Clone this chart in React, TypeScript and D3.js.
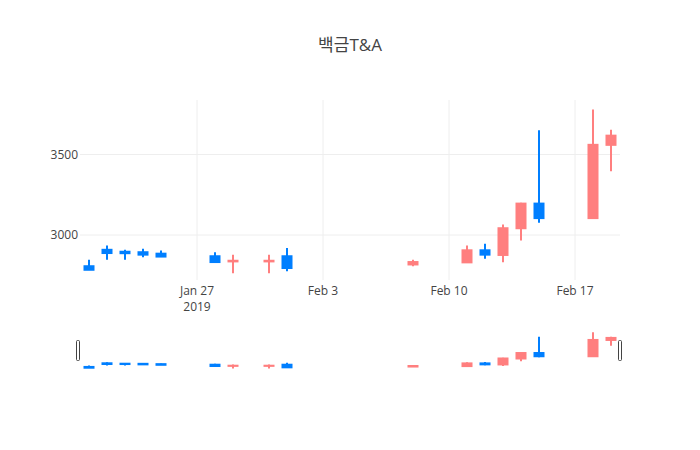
import React from "react";
import * as d3 from "d3";

const title = "백금T&A";
const dates = [
  "2019-01-21", "2019-01-22", "2019-01-23", "2019-01-24", "2019-01-25",
  "2019-01-28", "2019-01-29", "2019-01-31", "2019-02-01",
  "2019-02-08", "2019-02-11", "2019-02-12", "2019-02-13", "2019-02-14",
  "2019-02-15", "2019-02-18", "2019-02-19",
];
const open = [2806, 2908, 2896, 2893, 2884, 2868, 2836, 2836, 2868, 2817, 2830, 2905, 2876, 3042, 3195, 3105, 3560];
const high = [2846, 2935, 2908, 2914, 2904, 2893, 2877, 2877, 2920, 2846, 2935, 2945, 3065, 3200, 3650, 3779, 3653];
const low = [2784, 2846, 2846, 2862, 2866, 2832, 2763, 2763, 2775, 2806, 2830, 2852, 2831, 2966, 3076, 3105, 3396];
const close = [2784, 2888, 2887, 2878, 2866, 2832, 2840, 2840, 2795, 2832, 2905, 2878, 3042, 3195, 3105, 3560, 3617];
const yTicks = [3000, 3500];

const UP = "#ff7f7f";
const DOWN = "#007fff";
const FONT = '"Open Sans", verdana, arial, "Noto Sans CJK KR", sans-serif';

const W = 700;
const H = 450;
const L = 80, R = 620, T = 100, B = 280;
const ST = 330, SB = 370;

export default function App() {
  const parsed = dates.map((d) => new Date(d + "T00:00:00Z"));
  const x0 = d3.utcHour.offset(parsed[0], -12);
  const x1 = d3.utcHour.offset(parsed[parsed.length - 1], 12);
  const x = d3.scaleUtc().domain([x0, x1]).range([L, R]);
  const yDomain: [number, number] = [2720.5, 3838.5];
  const y = d3.scaleLinear().domain(yDomain).range([B, T]);
  const ys = d3.scaleLinear().domain(yDomain).range([SB, ST]);
  const xTicks = x.ticks(d3.utcSunday.every(1) as any);
  const dayPx = x(d3.utcDay.offset(parsed[0], 1)) - x(parsed[0]);
  const bodyW = dayPx * 0.5;

  const candles = (yy: d3.ScaleLinear<number, number>, lw: number) =>
    parsed.map((d, i) => {
      const cx = x(d);
      const up = close[i] >= open[i];
      const col = up ? UP : DOWN;
      const top = yy(Math.max(open[i], close[i]));
      const bot = yy(Math.min(open[i], close[i]));
      return (
        <g key={i}>
          <line x1={cx} x2={cx} y1={yy(high[i])} y2={yy(low[i])} stroke={col} strokeWidth={lw} />
          <rect x={cx - bodyW / 2} y={top} width={bodyW} height={Math.max(0, bot - top)} fill={col} stroke={col} strokeWidth={lw} />
        </g>
      );
    });

  return (
    <div style={{ position: "absolute", left: 0, top: 0 }}>
      <svg width={W} height={H} style={{ fontFamily: FONT, background: "#fff" }}>
        <rect width={W} height={H} fill="#fff" />
        <text x={350} y={51} textAnchor="middle" fontSize={17} fill="#444">{title}</text>
        {xTicks.map((t, i) => (
          <line key={"gx" + i} x1={x(t)} x2={x(t)} y1={T} y2={B} stroke="#eee" strokeWidth={1} />
        ))}
        {yTicks.map((v, i) => (
          <line key={"gy" + i} x1={L} x2={R} y1={y(v)} y2={y(v)} stroke="#eee" strokeWidth={1} />
        ))}
        {yTicks.map((v, i) => (
          <text key={"ty" + i} x={78} y={y(v) + 4.2} textAnchor="end" fontSize={12} fill="#444">{v}</text>
        ))}
        {xTicks.map((t, i) => (
          <text key={"tx" + i} x={x(t)} y={295} textAnchor="middle" fontSize={12} fill="#444">
            {d3.utcFormat("%b %-d")(t)}
            {i === 0 && (
              <tspan x={x(t)} dy={16}>{d3.utcFormat("%Y")(t)}</tspan>
            )}
          </text>
        ))}
        <g>{candles(y, 2)}</g>
        <g>
          <rect x={L} y={ST} width={R - L} height={SB - ST} fill="#fff" />
          {candles(ys, 2)}
          <rect x={L - 3.5} y={340.5} width={3} height={20} rx={1} fill="#fff" stroke="#444" strokeWidth={1} />
          <rect x={R - 1.5} y={340.5} width={3} height={20} rx={1} fill="#fff" stroke="#444" strokeWidth={1} />
        </g>
      </svg>
    </div>
  );
}
